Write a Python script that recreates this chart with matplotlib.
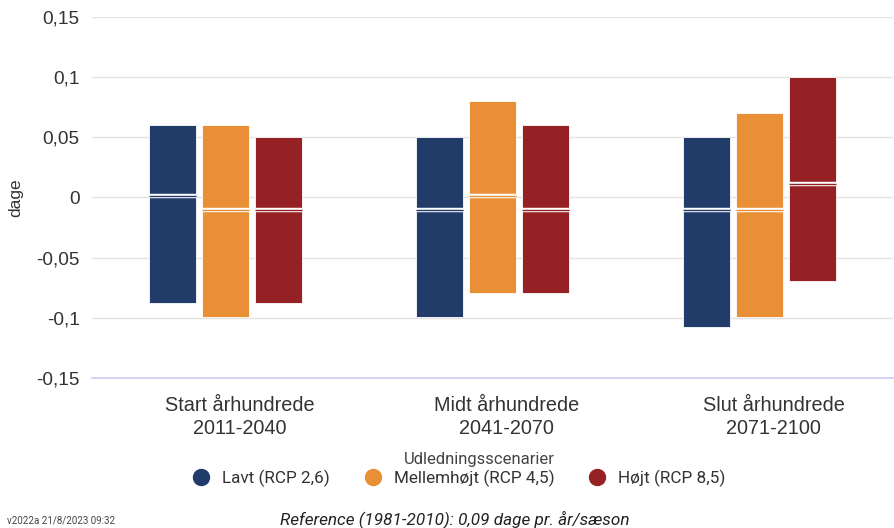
import matplotlib
matplotlib.use('Agg')
import matplotlib.pyplot as plt
import matplotlib.transforms as mtransforms
from matplotlib.lines import Line2D
from matplotlib.ticker import FixedLocator

# --- data ---
perioder = ['Start århundrede\n2011-2040', 'Midt århundrede\n2041-2070', 'Slut århundrede\n2071-2100']
scenarier = ['Lavt (RCP 2,6)', 'Mellemhøjt (RCP 4,5)', 'Højt (RCP 8,5)']
farver = ['#213c69', '#e98f36', '#962125']

# bund, top og median pr. scenarie (en værdi pr. periode)
lav_bund = [-0.088, -0.099, -0.108]
lav_top = [0.06, 0.05, 0.05]
lav_median = [0.001, -0.01, -0.01]

mellem_bund = [-0.099, -0.079, -0.099]
mellem_top = [0.06, 0.08, 0.07]
mellem_median = [-0.01, 0.001, -0.01]

hoej_bund = [-0.088, -0.079, -0.069]
hoej_top = [0.05, 0.06, 0.1]
hoej_median = [-0.01, -0.01, 0.011]

yticks = [-0.15, -0.1, -0.05, 0, 0.05, 0.1, 0.15]
ytick_labels = ['-0,15', '-0,1', '-0,05', '0', '0,05', '0,1', '0,15']

bunde = [lav_bund, mellem_bund, hoej_bund]
toppe = [lav_top, mellem_top, hoej_top]
medianer = [lav_median, mellem_median, hoej_median]

plt.rcParams['font.family'] = ['Liberation Sans', 'DejaVu Sans']

fig = plt.figure(figsize=(8.95, 5.28), dpi=100)
ax = fig.add_axes([0.1028, 0.284, 0.895, 0.684])

bredde = 0.176
afstand = 0.2
for i, (b, t, m, farve) in enumerate(zip(bunde, toppe, medianer, farver)):
    for j in range(len(perioder)):
        x = j + (i - 1) * afstand
        ax.bar(x, t[j] - b[j], bottom=b[j], width=bredde, color=farve,
               edgecolor='white', linewidth=0.6, zorder=2)
        # median: hvid dobbeltlinje
        ax.plot([x - bredde / 2, x + bredde / 2], [m[j], m[j]], color='white',
                lw=3.2, solid_capstyle='butt', zorder=3)
        ax.plot([x - bredde / 2, x + bredde / 2], [m[j], m[j]], color=farve,
                lw=1.0, solid_capstyle='butt', zorder=4)

ax.set_xlim(-0.5, 2.5)
ax.set_ylim(-0.15, 0.15)
ax.yaxis.set_major_locator(FixedLocator(yticks))
ax.set_yticklabels(ytick_labels, fontsize=13.7, color='#333333')
ax.set_xticks(range(len(perioder)))
ax.set_xticklabels(perioder, fontsize=14.3, color='#333333', linespacing=1.25)
ax.tick_params(axis='y', length=0, pad=9)
ax.tick_params(axis='x', length=0, pad=13)
# kategoriteksterne står lidt til højre for søjlegrupperne
skub = mtransforms.ScaledTranslation(0.14, 0, fig.dpi_scale_trans)
for lbl in ax.get_xticklabels():
    lbl.set_transform(lbl.get_transform() + skub)
ax.grid(axis='y', color='#e3e3e3', lw=1, zorder=0)
for side in ['top', 'right', 'left']:
    ax.spines[side].set_visible(False)
ax.spines['bottom'].set_color('#cccdf0')
ax.spines['bottom'].set_linewidth(1.2)
ax.set_ylabel('dage', fontsize=12.5, color='#333333', labelpad=9)

# legende (titlen sat for sig, da den ikke står midt over punkterne)
handles = [Line2D([0], [0], marker='o', color='none', markerfacecolor=f,
                  markeredgecolor=f, markersize=11.5) for f in farver]
leg = fig.legend(handles, scenarier, loc='center', bbox_to_anchor=(0.513, 0.0947),
                 ncol=3, frameon=False,
                 prop={'family': 'Roboto', 'size': 12.3}, handlelength=1.0,
                 handletextpad=0.73, columnspacing=2.0, borderpad=0.2)
for txt in leg.get_texts():
    txt.set_color('#333333')
fig.text(0.536, 0.129, 'Udledningsscenarier', fontsize=12, family='Roboto',
         color='#444444', ha='center', va='center')

fig.text(0.008, 0.008, 'v2022a 21/8/2023 09:32', fontsize=7, family='Roboto', color='#444444')
fig.text(0.508, 0.008, 'Reference (1981-2010): 0,09 dage pr. år/sæson', fontsize=12.3,
         family='Roboto', style='italic', color='#222222', ha='center')

fig.savefig('out.png', dpi=100)
